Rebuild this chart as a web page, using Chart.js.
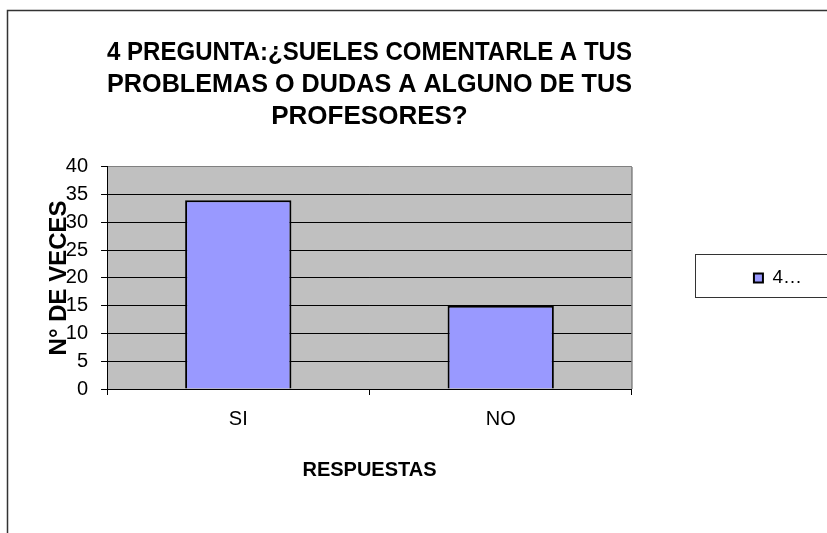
<!DOCTYPE html>
<html>
<head>
<meta charset="utf-8">
<script src="https://cdn.jsdelivr.net/npm/chart.js@4"></script>
<style>
  html, body { margin: 0; padding: 0; background: #fff; }
</style>
</head>
<body>
<canvas id="chart" width="827" height="533"></canvas>
<script>
"use strict";

const categories = ["SI", "NO"];
const answers = [34, 15];
const seriesLabel = "4…";
const titleLines = [
  "4 PREGUNTA:¿SUELES COMENTARLE A TUS",
  "PROBLEMAS O DUDAS A ALGUNO DE TUS",
  "PROFESORES?",
];
const xTitle = "RESPUESTAS";
const yTitle = "N° DE VECES";
const yMax = 40;
const yStep = 5;

Chart.defaults.font.family = "'Liberation Sans', Arial, sans-serif";
Chart.defaults.color = "#000";

// plot background, outer frame and the legend box
const chartFrame = {
  id: "chartFrame",
  beforeDraw(chart) {
    const { ctx, chartArea: a } = chart;
    ctx.save();
    ctx.fillStyle = "#C0C0C0";
    ctx.fillRect(a.left, a.top, a.right - a.left, a.bottom - a.top);
    ctx.restore();
  },
  afterDraw(chart) {
    const { ctx, chartArea: a } = chart;
    ctx.save();
    // outer border
    ctx.strokeStyle = "#333";
    ctx.lineWidth = 1.5;
    ctx.beginPath();
    ctx.moveTo(7.5, chart.height);
    ctx.lineTo(7.5, 10.5);
    ctx.lineTo(chart.width, 10.5);
    ctx.stroke();

    // plot area right edge
    ctx.strokeStyle = "#808080";
    ctx.lineWidth = 1.5;
    ctx.beginPath();
    ctx.moveTo(a.right, a.top);
    ctx.lineTo(a.right, a.bottom);
    ctx.stroke();

    // legend box
    const hb = chart.legend.legendHitBoxes[0];
    if (hb) {
      const cy = hb.top + hb.height / 2;
      ctx.strokeStyle = "#333";
      ctx.lineWidth = 1;
      ctx.strokeRect(Math.round(hb.left - 59) + 0.5, Math.round(cy - 24) + 0.5, 300, 43);
    }
    ctx.restore();
  },
};

const ctx = document.getElementById("chart");

const myChart = new Chart(ctx, {
  type: "bar",
  data: {
    labels: categories,
    datasets: [
      {
        label: seriesLabel,
        data: answers,
        backgroundColor: "#9999FF",
        borderColor: "#000",
        borderWidth: 2,
        categoryPercentage: 1,
        barPercentage: 0.405,
      },
    ],
  },
  options: {
    responsive: false,
    animation: false,
    layout: {
      padding: { left: 35, right: 15, top: 0, bottom: 51 },
    },
    plugins: {
      title: {
        display: true,
        text: titleLines,
        fullSize: false,
        color: "#000",
        font: { size: 26, weight: "bold", lineHeight: 1.23 },
        padding: { top: 37, bottom: 34 },
      },
      legend: {
        position: "right",
        fullSize: false,
        align: "center",
        labels: {
          boxWidth: 9,
          boxHeight: 9,
          padding: 122,
          color: "#000",
          font: { size: 19 },
        },
      },
      tooltip: { enabled: false },
    },
    scales: {
      x: {
        offset: true,
        grid: {
          offset: true,
          drawOnChartArea: false,
          drawTicks: true,
          tickLength: 6,
          color: "#000",
        },
        border: { color: "#000", width: 1 },
        ticks: { font: { size: 20 }, padding: 12, color: "#000" },
        title: {
          display: true,
          text: xTitle,
          font: { size: 20, weight: "bold" },
          padding: { top: 15, bottom: 0 },
        },
      },
      y: {
        min: 0,
        max: yMax,
        ticks: { stepSize: yStep, font: { size: 20 }, padding: 13, color: "#000" },
        grid: {
          color: (c) => (c.tick && c.tick.value === yMax ? "#808080" : "#000"),
          tickColor: "#000",
          tickLength: 6,
        },
        border: { color: "#000", width: 1 },
        title: {
          display: true,
          text: yTitle,
          font: { size: 24, weight: "bold" },
          padding: { top: 10, bottom: -21 },
        },
      },
    },
  },
  plugins: [chartFrame],
});
</script>
</body>
</html>
